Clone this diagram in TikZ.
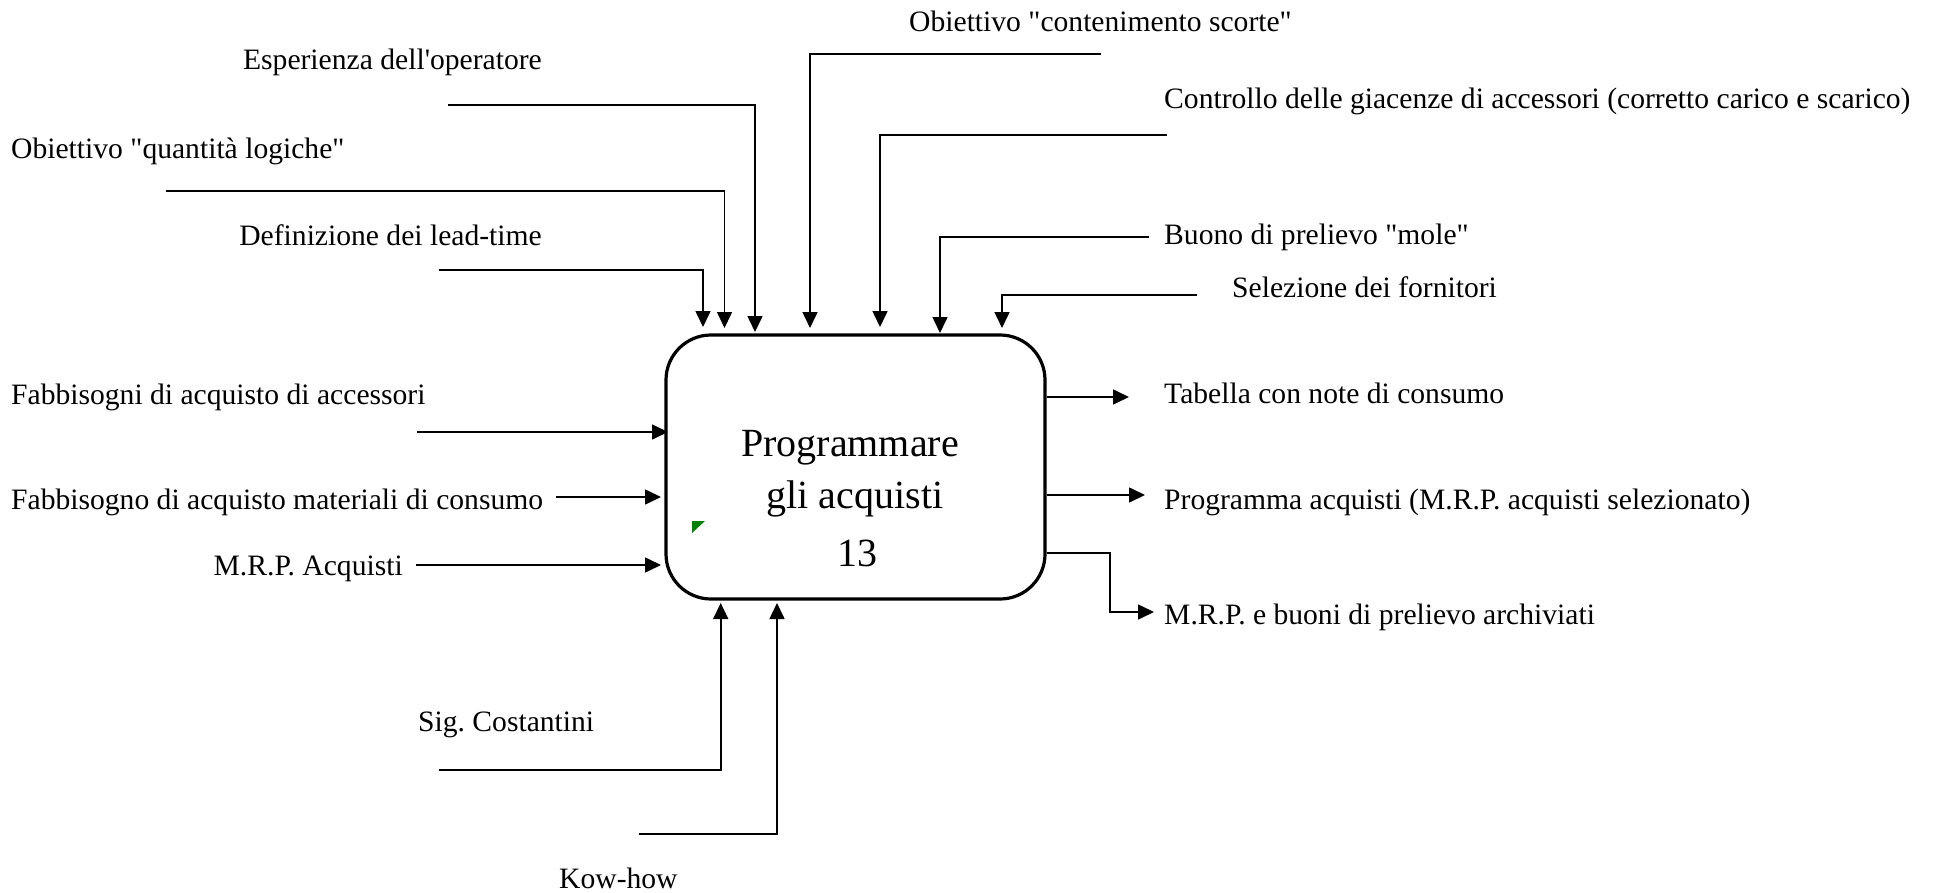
\documentclass[tikz,border=0pt]{standalone}
\usepackage{fontspec}
\setmainfont{Liberation Serif}
\usetikzlibrary{arrows.meta}
\definecolor{markgreen}{RGB}{0,128,0}
\frenchspacing
\newcommand{\dq}{\textquotedbl}
\begin{document}
\begin{tikzpicture}[x=1pt,y=-1pt,
  lbl/.style={inner sep=0pt, font=\fontsize{29.6}{34}\selectfont},
  ttl/.style={inner sep=0pt, anchor=base, font=\fontsize{40}{48}\selectfont},
  conn/.style={line width=1.6pt, -{Triangle[length=16pt,width=15pt]}},
  box/.style={draw, line width=3.2pt, rounded corners=45pt, inner sep=0pt,
    minimum width=379pt, minimum height=264pt}]
\useasboundingbox (0,0) rectangle (1953,893);

% activity box
\node[box] (P) at (855.5,467) {};
\node[ttl] (t1) at (850,456.7) {Programmare};
\node[ttl] (t2) at (855,508.3) {gli acquisti};
\node[ttl] (t3) at (857,566.7) {13};
\fill[markgreen] (692,521) -- (705,521) -- (692,533) -- cycle;

% labels
\node[lbl, anchor=base east] (Lesp) at (542,70) {Esperienza dell\textquotesingle operatore};
\node[lbl, anchor=base west] (Lqua) at (11,158.7) {Obiettivo \dq quantità logiche\dq};
\node[lbl, anchor=base east] (Ldef) at (542,245.7) {Definizione dei lead-time};
\node[lbl, anchor=base west] (Lcon) at (909,31.7) {Obiettivo \dq contenimento scorte\dq};
\node[lbl, anchor=base west] (Lgia) at (1164,108.3) {Controllo delle giacenze di accessori (corretto carico e scarico)};
\node[lbl, anchor=base west] (Lbuo) at (1164,245) {Buono di prelievo \dq mole\dq};
\node[lbl, anchor=base west] (Lsel) at (1232,297.7) {Selezione dei fornitori};
\node[lbl, anchor=base west] (Lfab) at (11,404) {Fabbisogni di acquisto di accessori};
\node[lbl, anchor=base west] (Lmat) at (11,509) {Fabbisogno di acquisto materiali di consumo};
\node[lbl, anchor=base east] (Lmrp) at (403,575.7) {M.R.P. Acquisti};
\node[lbl, anchor=base west] (Lsig) at (418,731) {Sig. Costantini};
\node[lbl, anchor=base west] (Lkow) at (559,888.3) {Kow-how};
\node[lbl, anchor=base west] (Ltab) at (1164,403.3) {Tabella con note di consumo};
\node[lbl, anchor=base west] (Lprg) at (1164,509) {Programma acquisti (M.R.P. acquisti selezionato)};
\node[lbl, anchor=base west] (Larc) at (1164,624) {M.R.P. e buoni di prelievo archiviati};

% connector end points
\coordinate (sDef) at (439,270);   \coordinate (eDef) at (703,327);
\coordinate (sQua) at (166,191);   \coordinate (eQua) at (724.5,328);
\coordinate (sEsp) at (448,105);   \coordinate (eEsp) at (755,332);
\coordinate (sCon) at (1101,54);   \coordinate (eCon) at (810,328);
\coordinate (sGia) at (1167,135);  \coordinate (eGia) at (880,327);
\coordinate (sBuo) at (1149,237);  \coordinate (eBuo) at (940,333);
\coordinate (sSel) at (1197,295);  \coordinate (eSel) at (1002,328);
\coordinate (sFab) at (417,432);   \coordinate (eFab) at (668,432);
\coordinate (sMat) at (556,497);   \coordinate (eMat) at (661,497);
\coordinate (sMrp) at (416,565);   \coordinate (eMrp) at (661,565);
\coordinate (sSig) at (439,770);   \coordinate (eSig) at (720.7,603);
\coordinate (sKow) at (639,834);   \coordinate (eKow) at (777,603);
\coordinate (eTab) at (1129,397);
\coordinate (ePrg) at (1145,495);
\coordinate (mArc) at (1110,612);  \coordinate (eArc) at (1154,612);

% controls (top)
\draw[conn] (sDef) -| (eDef);
\draw[conn] (sQua) -| (eQua);
\draw[conn] (sEsp) -| (eEsp);
\draw[conn] (sCon) -| (eCon);
\draw[conn] (sGia) -| (eGia);
\draw[conn] (sBuo) -| (eBuo);
\draw[conn] (sSel) -| (eSel);
% inputs
\draw[conn] (sFab) -- (eFab);
\draw[conn] (sMat) -- (eMat);
\draw[conn] (sMrp) -- (eMrp);
% mechanisms
\draw[conn] (sSig) -| (eSig);
\draw[conn] (sKow) -| (eKow);
% outputs
\draw[conn] (P.east |- eTab) -- (eTab);
\draw[conn] (P.east |- ePrg) -- (ePrg);
\draw[conn] (P.east |- 0,553) -| (mArc) -- (eArc);
\end{tikzpicture}
\end{document}
